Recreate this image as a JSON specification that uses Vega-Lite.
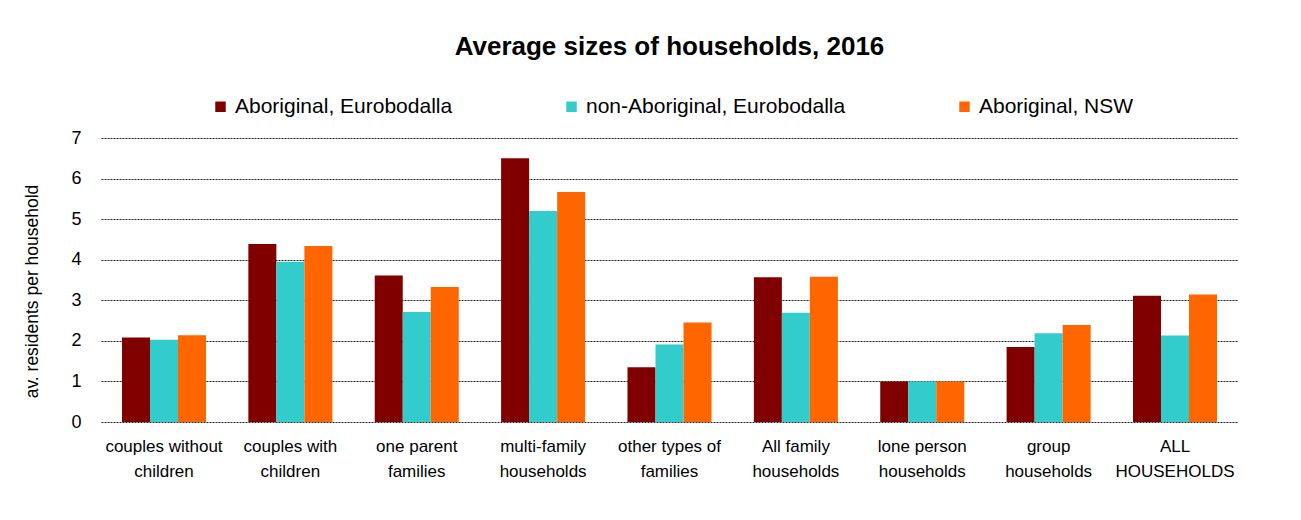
{
  "$schema": "https://vega.github.io/schema/vega-lite/v6.json",
  "width": 1137,
  "height": 284,
  "autosize": {"type": "none"},
  "padding": {"left": 101, "top": 138, "right": 63, "bottom": 98},
  "background": "white",
  "title": {
    "text": "Average sizes of households, 2016",
    "font": "Liberation Sans",
    "fontSize": 26,
    "fontWeight": "bold",
    "color": "black",
    "anchor": "middle",
    "offset": 36
  },
  "data": {
    "values": [
      {"cat": "couples without children", "series": "Aboriginal, Eurobodalla", "value": 2.08},
      {"cat": "couples without children", "series": "non-Aboriginal, Eurobodalla", "value": 2.03},
      {"cat": "couples without children", "series": "Aboriginal, NSW", "value": 2.14},
      {"cat": "couples with children", "series": "Aboriginal, Eurobodalla", "value": 4.39},
      {"cat": "couples with children", "series": "non-Aboriginal, Eurobodalla", "value": 3.95},
      {"cat": "couples with children", "series": "Aboriginal, NSW", "value": 4.34},
      {"cat": "one parent families", "series": "Aboriginal, Eurobodalla", "value": 3.61},
      {"cat": "one parent families", "series": "non-Aboriginal, Eurobodalla", "value": 2.71},
      {"cat": "one parent families", "series": "Aboriginal, NSW", "value": 3.33},
      {"cat": "multi-family households", "series": "Aboriginal, Eurobodalla", "value": 6.5},
      {"cat": "multi-family households", "series": "non-Aboriginal, Eurobodalla", "value": 5.2},
      {"cat": "multi-family households", "series": "Aboriginal, NSW", "value": 5.67},
      {"cat": "other types of families", "series": "Aboriginal, Eurobodalla", "value": 1.35},
      {"cat": "other types of families", "series": "non-Aboriginal, Eurobodalla", "value": 1.91},
      {"cat": "other types of families", "series": "Aboriginal, NSW", "value": 2.45},
      {"cat": "All family households", "series": "Aboriginal, Eurobodalla", "value": 3.57},
      {"cat": "All family households", "series": "non-Aboriginal, Eurobodalla", "value": 2.69},
      {"cat": "All family households", "series": "Aboriginal, NSW", "value": 3.58},
      {"cat": "lone person households", "series": "Aboriginal, Eurobodalla", "value": 1.0},
      {"cat": "lone person households", "series": "non-Aboriginal, Eurobodalla", "value": 1.0},
      {"cat": "lone person households", "series": "Aboriginal, NSW", "value": 1.0},
      {"cat": "group households", "series": "Aboriginal, Eurobodalla", "value": 1.85},
      {"cat": "group households", "series": "non-Aboriginal, Eurobodalla", "value": 2.19},
      {"cat": "group households", "series": "Aboriginal, NSW", "value": 2.39},
      {"cat": "ALL HOUSEHOLDS", "series": "Aboriginal, Eurobodalla", "value": 3.11},
      {"cat": "ALL HOUSEHOLDS", "series": "non-Aboriginal, Eurobodalla", "value": 2.13},
      {"cat": "ALL HOUSEHOLDS", "series": "Aboriginal, NSW", "value": 3.14}
    ]
  },
  "mark": {"type": "bar"},
  "encoding": {
    "x": {
      "field": "cat",
      "type": "nominal",
      "sort": null,
      "scale": {"paddingInner": 0.335, "paddingOuter": 0.166},
      "axis": {
        "title": null,
        "labelAngle": 0,
        "labelFont": "Liberation Sans",
        "labelFontSize": 17,
        "labelColor": "black",
        "labelBaseline": "top",
        "labelPadding": 16,
        "labelLineHeight": 25,
        "labelLimit": 200,
        "ticks": false,
        "domain": false,
        "labelExpr": "datum.value == 'couples without children' ? ['couples without','children'] : datum.value == 'couples with children' ? ['couples with','children'] : datum.value == 'one parent families' ? ['one parent','families'] : datum.value == 'multi-family households' ? ['multi-family','households'] : datum.value == 'other types of families' ? ['other types of','families'] : datum.value == 'All family households' ? ['All family','households'] : datum.value == 'lone person households' ? ['lone person','households'] : datum.value == 'group households' ? ['group','households'] : ['ALL','HOUSEHOLDS']"
      }
    },
    "xOffset": {
      "field": "series",
      "type": "nominal",
      "sort": ["Aboriginal, Eurobodalla", "non-Aboriginal, Eurobodalla", "Aboriginal, NSW"],
      "scale": {"paddingInner": 0, "paddingOuter": 0}
    },
    "y": {
      "field": "value",
      "type": "quantitative",
      "scale": {"domain": [0, 7]},
      "axis": {
        "title": "av. residents per household",
        "titleFont": "Liberation Sans",
        "titleFontSize": 17.5,
        "titleFontWeight": "normal",
        "titleColor": "black",
        "titlePadding": 29,
        "titleY": 153,
        "values": [0, 1, 2, 3, 4, 5, 6, 7],
        "labelFont": "Liberation Sans",
        "labelFontSize": 18,
        "labelColor": "black",
        "labelPadding": 20,
        "ticks": false,
        "domain": false,
        "grid": true,
        "gridColor": "#222222",
        "gridDash": [2, 1],
        "gridWidth": 1
      }
    },
    "color": {
      "field": "series",
      "type": "nominal",
      "sort": ["Aboriginal, Eurobodalla", "non-Aboriginal, Eurobodalla", "Aboriginal, NSW"],
      "scale": {
        "domain": ["Aboriginal, Eurobodalla", "non-Aboriginal, Eurobodalla", "Aboriginal, NSW"],
        "range": ["#800000", "#33CCCC", "#FF6600"]
      },
      "legend": {
        "title": null,
        "orient": "none",
        "direction": "horizontal",
        "legendX": 109,
        "legendY": -42,
        "symbolType": "square",
        "symbolSize": 110,
        "symbolStrokeWidth": 0,
        "labelFont": "Liberation Sans",
        "labelFontSize": 21,
        "labelColor": "black",
        "labelOffset": 4,
        "columnPadding": 108,
        "labelLimit": 400
      }
    }
  },
  "config": {
    "view": {"stroke": null}
  }
}
